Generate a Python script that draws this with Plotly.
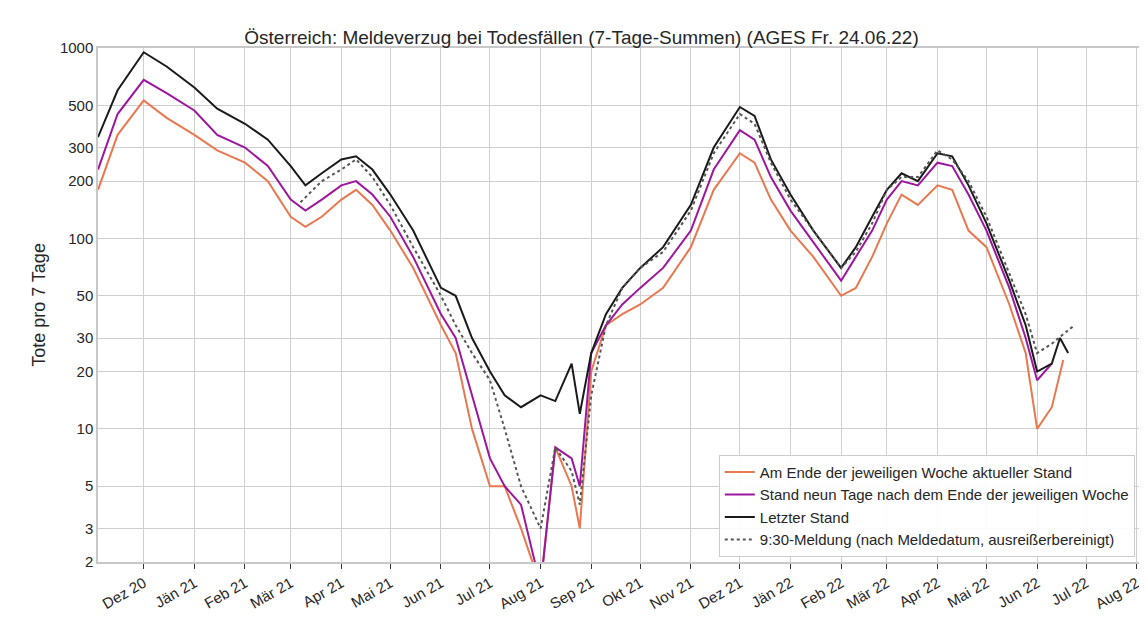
import pandas as pd
import plotly.graph_objects as go

# Stützstellen, Werte = Tote pro 7 Tage
d_main = ["2020-11-03", "2020-11-15", "2020-12-01", "2020-12-15", "2021-01-01", "2021-01-15",
          "2021-02-01", "2021-02-15", "2021-03-01", "2021-03-10", "2021-03-20", "2021-04-01",
          "2021-04-10", "2021-04-20", "2021-05-01", "2021-05-15", "2021-06-01", "2021-06-10",
          "2021-06-20", "2021-07-01", "2021-07-10", "2021-07-20", "2021-08-01", "2021-08-10",
          "2021-08-20", "2021-08-25", "2021-09-01", "2021-09-10", "2021-09-20", "2021-10-01",
          "2021-10-15", "2021-11-01", "2021-11-15", "2021-12-01", "2021-12-10", "2021-12-20",
          "2022-01-01", "2022-01-15", "2022-02-01", "2022-02-10", "2022-02-20", "2022-03-01",
          "2022-03-10", "2022-03-20", "2022-04-01", "2022-04-10", "2022-04-20", "2022-05-01",
          "2022-05-15", "2022-05-25", "2022-06-01", "2022-06-10"]

orange = [180, 350, 530, 430, 350, 290, 250, 200, 130, 115, 130, 160, 180, 150, 110, 70, 35, 25,
          10, 5, 5, 3, 1.5, 8, 5, 3, 20, 35, 40, 45, 55, 90, 180, 280, 250, 160, 110, 80, 50, 55,
          80, 120, 170, 150, 190, 180, 110, 90, 45, 25, 10, 13]
orange_end = ("2022-06-17", 23)

purple = [230, 450, 680, 580, 470, 350, 300, 240, 160, 140, 160, 190, 200, 170, 130, 80, 40, 30,
          15, 7, 5, 4, 1.5, 8, 7, 5, 25, 35, 45, 55, 70, 110, 230, 370, 330, 210, 140, 95, 60, 80,
          110, 160, 200, 190, 250, 240, 170, 110, 55, 30, 18, 22]

black = [340, 600, 950, 800, 620, 480, 400, 330, 240, 190, 220, 260, 270, 230, 170, 110, 55, 50,
         30, 20, 15, 13, 15, 14, 22, 12, 25, 40, 55, 70, 90, 150, 300, 490, 440, 260, 170, 110, 70,
         90, 130, 180, 220, 200, 280, 270, 190, 120, 60, 35, 20, 22]
black_tail = (["2022-06-15", "2022-06-20"], [30, 25])

d_dot = ["2021-03-07", "2021-03-20", "2021-04-01", "2021-04-10", "2021-04-20", "2021-05-01",
         "2021-05-15", "2021-06-01", "2021-06-10", "2021-06-20", "2021-07-01", "2021-07-10",
         "2021-07-20", "2021-08-01", "2021-08-10", "2021-08-20", "2021-08-25", "2021-09-01",
         "2021-09-10", "2021-09-20", "2021-10-01", "2021-10-15", "2021-11-01", "2021-11-15",
         "2021-12-01", "2021-12-10", "2021-12-20", "2022-01-01", "2022-01-15", "2022-02-01",
         "2022-02-10", "2022-02-20", "2022-03-01", "2022-03-10", "2022-03-20", "2022-04-01",
         "2022-04-10", "2022-04-20", "2022-05-01", "2022-05-15", "2022-05-25", "2022-06-01",
         "2022-06-10", "2022-06-20", "2022-06-24"]
dotted = [155, 200, 230, 260, 210, 150, 90, 50, 35, 25, 18, 10, 5, 3, 8, 6, 4, 15, 35, 55, 70,
          85, 140, 280, 450, 400, 250, 160, 110, 70, 85, 120, 180, 210, 210, 290, 260, 200, 130,
          65, 40, 25, 28, 33, 35]

months = ["Dez 20", "Jän 21", "Feb 21", "Mär 21", "Apr 21", "Mai 21", "Jun 21", "Jul 21",
          "Aug 21", "Sep 21", "Okt 21", "Nov 21", "Dez 21", "Jän 22", "Feb 22", "Mär 22",
          "Apr 22", "Mai 22", "Jun 22", "Jul 22", "Aug 22"]
month_dates = pd.date_range("2020-12-01", periods=len(months), freq="MS")

fig = go.Figure()
fig.add_trace(go.Scatter(x=d_main + [orange_end[0]], y=orange + [orange_end[1]], mode="lines",
                         line=dict(color="#e8784f", width=2),
                         name="Am Ende der jeweiligen Woche aktueller Stand"))
fig.add_trace(go.Scatter(x=d_main, y=purple, mode="lines", line=dict(color="#9c179e", width=2),
                         name="Stand neun Tage nach dem Ende der jeweiligen Woche"))
fig.add_trace(go.Scatter(x=d_main + black_tail[0], y=black + black_tail[1], mode="lines",
                         line=dict(color="#1a1a1a", width=2), name="Letzter Stand"))
fig.add_trace(go.Scatter(x=d_dot, y=dotted, mode="lines",
                         line=dict(color="#555555", width=2, dash="dot"),
                         name="9:30-Meldung (nach Meldedatum, ausreißerbereinigt)"))

fig.update_layout(
    width=1147, height=636, paper_bgcolor="white", plot_bgcolor="white",
    font=dict(family="Liberation Sans", size=15, color="#262626"),
    margin=dict(l=90, r=15, t=40, b=82),
    title=dict(text="Österreich: Meldeverzug bei Todesfällen (7-Tage-Summen) (AGES Fr. 24.06.22)",
               x=0.5, xanchor="center", y=0.965, font=dict(size=19)),
    legend=dict(x=0.995, y=0.01, xanchor="right", yanchor="bottom", bgcolor="rgba(255,255,255,0.9)",
                bordercolor="#cccccc", borderwidth=1, font=dict(size=15)),
    xaxis=dict(range=["2020-11-03", "2022-08-03"], tickvals=month_dates, ticktext=months,
               tickangle=-30, showgrid=True, gridcolor="#cfcfcf", gridwidth=1.3, ticks="outside",
               ticklen=5, tickcolor="#333", showline=True, linecolor="#c8c8c8", linewidth=1.5,
               mirror=True),
    yaxis=dict(type="log", range=[0.30103, 3], tickvals=[2, 3, 5, 10, 20, 30, 50, 100, 200, 300, 500, 1000],
               ticktext=["2", "3", "5", "10", "20", "30", "50", "100", "200", "300", "500", "1000"],
               showgrid=True, gridcolor="#cfcfcf", gridwidth=1.3, showline=True, linecolor="#c8c8c8",
               linewidth=1.5, mirror=True, title=dict(text="Tote pro 7 Tage", standoff=10)),
)
fig.write_html("out.html")
